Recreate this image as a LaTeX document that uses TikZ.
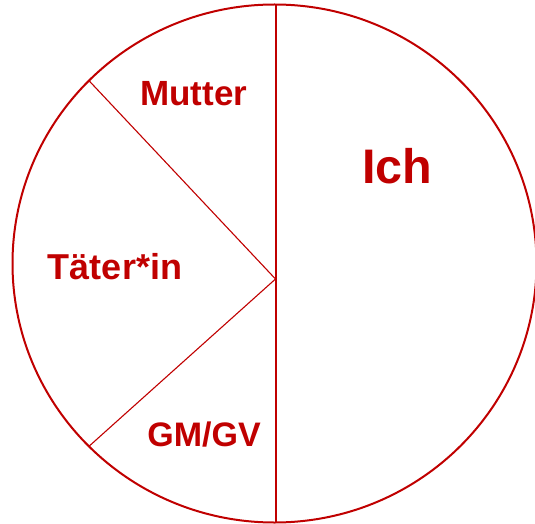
\documentclass[tikz,border=0pt]{standalone}
\usepackage{fontspec}
\setmainfont{Liberation Sans}
\definecolor{darkred}{HTML}{C00000}
\tikzset{
  lbl/.style={anchor=base, text=darkred, font=\bfseries, inner sep=0pt},
  outline/.style={draw=darkred, line width=2pt},
  divider/.style={draw=darkred, line width=1.1pt},
}
\begin{document}
\begin{tikzpicture}[x=1pt,y=-1pt]
\useasboundingbox (0,0) rectangle (535,524);
\clip (0,0) rectangle (535,524);
\coordinate (c) at (274.5,263.5);
\coordinate (v) at (275.5,279);
\coordinate (top) at (275.5,4.5);
\coordinate (bot) at (275.5,522.5);
\coordinate (ul) at (89.3,81);
\coordinate (ll) at (89.3,446);
\draw[outline] (c) ellipse [x radius=262, y radius=259];
\draw[divider, line width=2pt] (top) -- (bot);
\draw[divider] (ul) -- (v) -- (ll);
\node[lbl, font=\bfseries\fontsize{35}{38}\selectfont] (mutter) at (193.7,106) {Mutter};
\node[lbl, font=\bfseries\fontsize{48.5}{52}\selectfont] (ich) at (397.3,183.3) {Ich};
\node[lbl, font=\bfseries\fontsize{36}{40}\selectfont] (taeter) at (115,279.3) {Täter*in};
\node[lbl, font=\bfseries\fontsize{34}{37}\selectfont] (gmgv) at (204,446.7) {GM/GV};
\end{tikzpicture}
\end{document}
